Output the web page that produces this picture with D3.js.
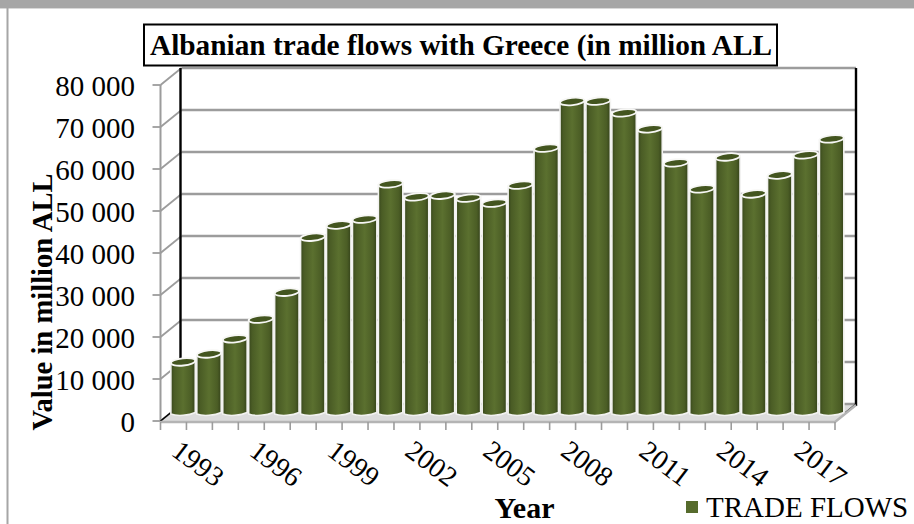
<!DOCTYPE html>
<html><head><meta charset="utf-8">
<script src="https://cdn.jsdelivr.net/npm/d3@7"></script>
<style>html,body{margin:0;padding:0;background:#fff}svg{display:block}text{font-family:"Liberation Serif",serif;fill:#000}</style>
</head><body><svg id="c" width="914" height="524"></svg>
<script>
const years = d3.range(1993, 2019);
const tradeFlows = [12400,14300,17900,22600,29000,42100,45000,46400,54800,51700,52100,51400,50200,54500,63300,74400,74500,71700,67900,59800,53600,61200,52400,56900,61700,65500];
const yTicks = [0,10000,20000,30000,40000,50000,60000,70000,80000];
const xLabels = [1993,1996,1999,2002,2005,2008,2011,2014,2017];
const titleText = "Albanian trade flows with Greece (in million ALL";
const yTitle = "Value in million ALL", xTitle = "Year", legendText = "TRADE FLOWS";

const svg = d3.select("#c");
const dx = 21, dy = -17, plotLeft = 160.5, plotRight = 835, plotBottom = 421, plotTop = 85;
const x = d3.scaleBand().domain(years).range([plotLeft, plotRight]).padding(0);
const y = d3.scaleLinear().domain([0, 80000]).range([plotBottom, plotTop]);
const gray = "#9c9c9c";

// window frame
svg.append("rect").attr("width",914).attr("height",8).attr("fill","#a6a6a6");
svg.append("rect").attr("y",8).attr("width",914).attr("height",1).attr("fill","#d8d8d8");
svg.append("line").attr("x1",7.5).attr("x2",7.5).attr("y1",8).attr("y2",524).attr("stroke","#a6a6a6").attr("stroke-width",2);

const defs = svg.append("defs");
const g = defs.append("linearGradient").attr("id","cyl");
[[0,"#37461c"],[.14,"#4a5c25"],[.5,"#5b702f"],[.84,"#4b5d25"],[1,"#34421a"]].forEach(([o,c])=>g.append("stop").attr("offset",o).attr("stop-color",c));

// floor
svg.append("path").attr("fill","#dcdcdc")
  .attr("d",`M${plotLeft},${plotBottom}L${plotLeft+dx},${plotBottom+dy}H${plotRight+dx}L${plotRight},${plotBottom}Z`);

// back wall and side wall grid
svg.selectAll(".grid").data(yTicks).join("line").attr("class","grid")
  .attr("x1",plotLeft+dx).attr("x2",plotRight+dx).attr("y1",d=>y(d)+dy).attr("y2",d=>y(d)+dy)
  .attr("stroke",gray).attr("stroke-width",2.4);
svg.selectAll(".side").data(yTicks).join("line").attr("class","side")
  .attr("x1",plotLeft).attr("x2",plotLeft+dx).attr("y1",d=>y(d)).attr("y2",d=>y(d)+dy)
  .attr("stroke",gray).attr("stroke-width",1.8);
svg.selectAll(".tick").data(yTicks).join("line").attr("class","tick")
  .attr("x1",plotLeft-8).attr("x2",plotLeft).attr("y1",d=>y(d)).attr("y2",d=>y(d))
  .attr("stroke",gray).attr("stroke-width",1.8);
svg.append("line").attr("x1",plotLeft).attr("x2",plotLeft).attr("y1",plotTop).attr("y2",plotBottom).attr("stroke",gray).attr("stroke-width",2);
[plotLeft+dx-1, plotRight+dx].forEach(px=>svg.append("line").attr("x1",px).attr("x2",px).attr("y1",plotTop+dy).attr("y2",plotBottom+dy+2).attr("stroke","#000").attr("stroke-width",2.4));
svg.append("line").attr("x1",plotRight+10).attr("x2",plotRight+dx).attr("y1",plotBottom-8).attr("y2",plotBottom+dy).attr("stroke","#000").attr("stroke-width",1.6);
svg.append("line").attr("x1",plotLeft).attr("x2",plotLeft+dx).attr("y1",plotBottom).attr("y2",plotBottom+dy).attr("stroke","#000").attr("stroke-width",1.6);

// floor edge and x ticks
svg.append("path").attr("fill","none").attr("stroke","#b4b4b4").attr("stroke-width",2.5)
  .attr("d",`M${plotLeft},${plotBottom+1}H${plotRight}L${plotRight+dx},${plotBottom+dy+1}`);
svg.selectAll(".xt").data(d3.range(27)).join("line").attr("class","xt")
  .attr("x1",i=>plotLeft+i*x.step()).attr("x2",i=>plotLeft+i*x.step()).attr("y1",plotBottom+1).attr("y2",plotBottom+9)
  .attr("stroke",gray).attr("stroke-width",1.6);

// cylinders
const barW = 24.4, off = 9.6, ry = 3.6, base = 414;
const yb = d3.scaleLinear().domain([0,80000]).range([base, base - (plotBottom-plotTop)]);
const bars = svg.selectAll(".bar").data(years.map((yr,i)=>({yr,v:tradeFlows[i]}))).join("g").attr("class","bar")
  .attr("transform",d=>`translate(${x(d.yr)+x.step()/2+off},0)`);
bars.append("path").attr("fill","url(#cyl)").attr("stroke","#f2f2f0").attr("stroke-width",1.6)
  .attr("d",d=>{const r=barW/2,t=yb(d.v);
    return `M${-r},${t+1}V${base}C${-r/2},${base+2.5} ${r/2},${base+1.5} ${r},${base-1.5}V${t-1}Z`;});
bars.append("ellipse").attr("cx",0).attr("cy",d=>yb(d.v)).attr("rx",barW/2).attr("ry",ry)
  .attr("transform",d=>`rotate(-6 0 ${yb(d.v)})`)
  .attr("fill","#43551f").attr("stroke","#f7f7f5").attr("stroke-width",1.8);

// y labels
svg.selectAll(".yl").data(yTicks).join("text").attr("class","yl")
  .attr("x",135).attr("y",d=>y(d)+10.5).attr("text-anchor","end").attr("font-size",29)
  .text(d=>d===0?"0":d3.format(",")(d).replace(",", " "));

// x labels
svg.selectAll(".xl").data(xLabels).join("text").attr("class","xl")
  .attr("text-anchor","middle").attr("font-size",28)
  .attr("transform",d=>`translate(${x(d)+x.step()/2+19},${471}) rotate(37)`)
  .text(d=>d);

// title
svg.append("rect").attr("x",144).attr("y",24.5).attr("width",633).attr("height",41).attr("fill","#fff").attr("stroke","#000").attr("stroke-width",2);
svg.append("text").attr("x",461).attr("y",55).attr("text-anchor","middle").attr("font-size",29.3).attr("font-weight","bold").text(titleText);

// axis titles
svg.append("text").attr("transform","translate(52,302) rotate(-90)").attr("text-anchor","middle").attr("font-size",28.6).attr("font-weight","bold").text(yTitle);
svg.append("text").attr("x",524.5).attr("y",518).attr("text-anchor","middle").attr("font-size",30).attr("font-weight","bold").text(xTitle);

// legend
svg.append("rect").attr("x",686).attr("y",501).attr("width",12).attr("height",12).attr("fill","#566b2c");
svg.append("text").attr("x",706).attr("y",517).attr("font-size",29).text(legendText);
</script></body></html>
